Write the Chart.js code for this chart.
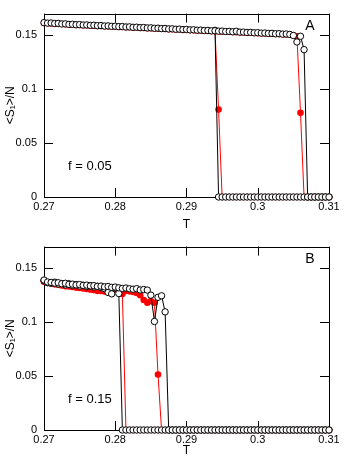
<!DOCTYPE html>
<html>
<head>
<meta charset="utf-8">
<script src="https://cdn.jsdelivr.net/npm/chart.js@4/dist/chart.umd.min.js"></script>
<style>
  html, body { margin: 0; padding: 0; background: #fff; }
  .panel { position: relative; width: 349px; }
  canvas { display: block; }
</style>
</head>
<body>
<div class="panel"><canvas id="chartA" width="349" height="233"></canvas></div>
<div class="panel"><canvas id="chartB" width="349" height="226"></canvas></div>
<script>
// temperature grid shared by every run
const tGrid = [
  0.27, 0.2705, 0.271, 0.2715, 0.272, 0.2725, 0.273, 0.2735, 0.274, 0.2745,
  0.275, 0.2755, 0.276, 0.2765, 0.277, 0.2775, 0.278, 0.2785, 0.279, 0.2795,
  0.28, 0.2805, 0.281, 0.2815, 0.282, 0.2825, 0.283, 0.2835, 0.284, 0.2845,
  0.285, 0.2855, 0.286, 0.2865, 0.287, 0.2875, 0.288, 0.2885, 0.289, 0.2895,
  0.29, 0.2905, 0.291, 0.2915, 0.292, 0.2925, 0.293, 0.2935, 0.294, 0.2945,
  0.295, 0.2955, 0.296, 0.2965, 0.297, 0.2975, 0.298, 0.2985, 0.299, 0.2995,
  0.3, 0.3005, 0.301, 0.3015, 0.302, 0.3025, 0.303, 0.3035, 0.304, 0.3045,
  0.305, 0.3055, 0.306, 0.3065, 0.307, 0.3075, 0.308, 0.3085, 0.309, 0.3095,
  0.31
];
const xTicks = [0.27, 0.28, 0.29, 0.3, 0.31];
const yTicks = [0, 0.05, 0.1, 0.15];

// panel A, f = 0.05
const aBlackUp = [
  0.1616, 0.1612, 0.1613, 0.1608, 0.1609, 0.1604, 0.1605, 0.1600, 0.1601, 0.1597,
  0.1598, 0.1594, 0.1595, 0.1591, 0.1592, 0.1588, 0.1589, 0.1585, 0.1586, 0.1582,
  0.1583, 0.1579, 0.1580, 0.1576, 0.1577, 0.1573, 0.1574, 0.1570, 0.1571, 0.1567,
  0.1568, 0.1564, 0.1565, 0.1561, 0.1562, 0.1558, 0.1559, 0.1555, 0.1556, 0.1552,
  0.1553, 0.1549, 0.1550, 0.1546, 0.1547, 0.1543, 0.1544, 0.1540, 0.1541, 0.1537,
  0.1538, 0.1534, 0.1535, 0.1531, 0.1536, 0.1528, 0.1529, 0.1525, 0.1526, 0.1522,
  0.1523, 0.1519, 0.1520, 0.1516, 0.1517, 0.1513, 0.1514, 0.1510, 0.1511, 0.1507,
  0.1497, 0.1437, 0.1490, 0.1366, 0, 0, 0, 0, 0, 0,
  0
];
const aBlackDown = [
  null, null, null, null, null, null, null, null, null, null,
  null, null, null, null, null, null, null, null, null, null,
  null, null, null, null, null, null, null, null, null, null,
  null, null, null, null, null, null, null, null, null, null,
  null, null, null, null, null, null, null, null, 0.1545, 0,
  0, 0, 0, 0, 0, 0, 0, 0, 0, 0,
  0, 0, 0, 0, 0, 0, 0, 0, 0, 0,
  0, 0, 0, 0, 0, 0, 0, 0, 0, 0,
  0
];
const aRedUp = [
  0.1613, 0.1611, 0.1609, 0.1607, 0.1605, 0.1603, 0.1601, 0.1599, 0.1597, 0.1595,
  0.1594, 0.1592, 0.1591, 0.1589, 0.1588, 0.1586, 0.1585, 0.1583, 0.1582, 0.1580,
  0.1579, 0.1577, 0.1576, 0.1574, 0.1573, 0.1571, 0.1570, 0.1568, 0.1567, 0.1565,
  0.1564, 0.1562, 0.1561, 0.1559, 0.1558, 0.1556, 0.1555, 0.1553, 0.1552, 0.1550,
  0.1549, 0.1547, 0.1546, 0.1544, 0.1543, 0.1541, 0.1540, 0.1538, 0.1537, 0.1535,
  0.1534, 0.1532, 0.1531, 0.1529, 0.1528, 0.1526, 0.1525, 0.1523, 0.1522, 0.1520,
  0.1519, 0.1517, 0.1516, 0.1514, 0.1513, 0.1511, 0.1510, 0.1508, 0.1507, 0.1505,
  0.1500, 0.1490, 0.078, 0, 0, 0, 0, 0, 0, 0,
  0
];
const aRedDown = [
  null, null, null, null, null, null, null, null, null, null,
  null, null, null, null, null, null, null, null, null, null,
  null, null, null, null, null, null, null, null, null, null,
  null, null, null, null, null, null, null, null, null, null,
  null, null, null, null, null, null, null, null, 0.1540, 0.081,
  0, 0, 0, 0, 0, 0, 0, 0, 0, 0,
  0, 0, 0, 0, 0, 0, 0, 0, 0, 0,
  0, 0, 0, 0, 0, 0, 0, 0, 0, 0,
  0
];

// panel B, f = 0.15
const bBlackUp = [
  0.1390, 0.1372, 0.1368, 0.1362, 0.1365, 0.1356, 0.1360, 0.1350, 0.1352, 0.1345,
  0.1348, 0.1340, 0.1343, 0.1336, 0.1338, 0.1331, 0.1334, 0.1327, 0.1330, 0.1322,
  0.1325, 0.1318, 0.1312, 0.1316, 0.1309, 0.1305, 0.1310, 0.1298, 0.1302, 0.1297,
  0.1250, 0.1006, 0.1230, 0.1244, 0.1095, 0, 0, 0, 0, 0,
  0, 0, 0, 0, 0, 0, 0, 0, 0, 0,
  0, 0, 0, 0, 0, 0, 0, 0, 0, 0,
  0, 0, 0, 0, 0, 0, 0, 0, 0, 0,
  0, 0, 0, 0, 0, 0, 0, 0, 0, 0,
  0
];
const bBlackDown = [
  0.1385, 0.1366, 0.1360, 0.1370, 0.1352, 0.1358, 0.1345, 0.1355, 0.1340, 0.1348,
  0.1335, 0.1342, 0.1330, 0.1338, 0.1326, 0.1332, 0.1320, 0.1310, 0.1275, 0.1262,
  0.1318, 0.1265, 0, 0, 0, 0, 0, 0, 0, 0,
  0, 0, 0, 0, 0, 0, 0, 0, 0, 0,
  0, 0, 0, 0, 0, 0, 0, 0, 0, 0,
  0, 0, 0, 0, 0, 0, 0, 0, 0, 0,
  0, 0, 0, 0, 0, 0, 0, 0, 0, 0,
  0, 0, 0, 0, 0, 0, 0, 0, 0, 0,
  0
];
const bRedUp = [
  0.1380, 0.1368, 0.1360, 0.1355, 0.1350, 0.1345, 0.1332, 0.1338, 0.1330, 0.1325,
  0.1318, 0.1322, 0.1312, 0.1305, 0.1298, 0.1290, 0.1295, 0.1288, 0.1300, 0.1292,
  0.1315, 0.1300, 0.1295, 0.1290, 0.1285, 0.1280, 0.1270, 0.1250, 0.1205, 0.1180,
  0.1195, 0.1180, 0.0515, 0, 0, 0, 0, 0, 0, 0,
  0, 0, 0, 0, 0, 0, 0, 0, 0, 0,
  0, 0, 0, 0, 0, 0, 0, 0, 0, 0,
  0, 0, 0, 0, 0, 0, 0, 0, 0, 0,
  0, 0, 0, 0, 0, 0, 0, 0, 0, 0,
  0
];
const bRedDown = [
  0.1375, 0.1362, 0.1358, 0.1350, 0.1346, 0.1340, 0.1336, 0.1330, 0.1326, 0.1320,
  0.1316, 0.1312, 0.1308, 0.1302, 0.1298, 0.1292, 0.1288, 0.1284, 0.1280, 0.1290,
  0.1305, 0.1295, 0.1260, 0, 0, 0, 0, 0, 0, 0,
  0, 0, 0, 0, 0, 0, 0, 0, 0, 0,
  0, 0, 0, 0, 0, 0, 0, 0, 0, 0,
  0, 0, 0, 0, 0, 0, 0, 0, 0, 0,
  0, 0, 0, 0, 0, 0, 0, 0, 0, 0,
  0, 0, 0, 0, 0, 0, 0, 0, 0, 0,
  0
];

Chart.defaults.font.family = '"Liberation Sans", Arial, sans-serif';
Chart.defaults.color = '#000';

function toPoints(vals) {
    return tGrid.map((t, i) => ({ x: t, y: vals[i] })).filter(p => p.y !== null && p.y !== undefined);
}

function redSet(vals) {
    return {
        data: toPoints(vals),
        borderColor: '#ff0000',
        backgroundColor: '#ff0000',
        borderWidth: 1,
        pointRadius: 3.3,
        pointBorderWidth: 0,
        pointBackgroundColor: '#ff0000',
        tension: 0,
        clip: false,
        order: 1
    };
}

function blackSet(vals) {
    return {
        data: toPoints(vals),
        borderColor: '#000',
        borderWidth: 1,
        pointRadius: 3.2,
        pointBorderWidth: 1,
        pointBorderColor: '#000',
        pointBackgroundColor: '#fff',
        tension: 0,
        clip: false,
        order: 0
    };
}

// box around the plot and inward tick marks on all four sides
const frameTicks = {
    id: 'frameTicks',
    beforeDatasetsDraw(chart) {
        const { ctx, chartArea: a, scales: { x, y } } = chart;
        ctx.save();
        ctx.strokeStyle = '#000';
        ctx.lineWidth = 1;
        ctx.strokeRect(Math.round(a.left) + 0.5, Math.round(a.top) + 0.5,
            Math.round(a.right - a.left), Math.round(a.bottom - a.top));
        ctx.beginPath();
        x.ticks.forEach(t => {
            const px = Math.round(x.getPixelForValue(t.value)) + 0.5;
            ctx.moveTo(px, a.bottom); ctx.lineTo(px, a.bottom - 9);
            ctx.moveTo(px, a.top); ctx.lineTo(px, a.top + 9);
        });
        y.ticks.forEach(t => {
            const py = Math.round(y.getPixelForValue(t.value)) + 0.5;
            ctx.moveTo(a.left, py); ctx.lineTo(a.left + 9, py);
            ctx.moveTo(a.right, py); ctx.lineTo(a.right - 9, py);
        });
        ctx.stroke();
        ctx.restore();
    }
};

const notes = {
    id: 'notes',
    afterDraw(chart) {
        const { ctx, chartArea: a } = chart;
        const o = chart.options.plugins.notes;
        ctx.save();
        ctx.fillStyle = '#000';
        ctx.textBaseline = 'middle';
        ctx.font = '13px "Liberation Sans", Arial, sans-serif';
        ctx.textAlign = 'left';
        ctx.fillText(o.fLabel, a.left + 24, a.bottom - 31);
        ctx.font = '14px "Liberation Sans", Arial, sans-serif';
        ctx.textAlign = 'center';
        ctx.fillText(o.panel, a.right - 19, a.top + 13);
        ctx.restore();
    }
};

function makeChart(id, sets, panel, fLabel, axisHeight) {
    return new Chart(document.getElementById(id).getContext('2d'), {
        type: 'line',
        data: { datasets: sets },
        options: {
            responsive: false,
            animation: false,
            layout: { padding: { top: 7, right: 20, left: 0, bottom: 0 } },
            plugins: {
                legend: { display: false },
                tooltip: { enabled: false },
                notes: { panel: panel, fLabel: fLabel }
            },
            scales: {
                x: {
                    type: 'linear',
                    min: 0.27,
                    max: 0.31,
                    afterBuildTicks: s => { s.ticks = xTicks.map(v => ({ value: v })); },
                    afterFit: s => { s.height = axisHeight; },
                    grid: { display: false, drawTicks: false },
                    border: { display: false },
                    ticks: { padding: 3, maxRotation: 0, font: { size: 11 }, callback: v => String(v) },
                    title: { display: true, text: 'T', font: { size: 12 }, padding: 1 }
                },
                y: {
                    min: 0,
                    max: 0.17,
                    afterBuildTicks: s => { s.ticks = yTicks.map(v => ({ value: v })); },
                    afterFit: s => { s.width = 44; },
                    grid: { display: false, drawTicks: false },
                    border: { display: false },
                    ticks: { padding: 7, font: { size: 11 }, callback: v => String(v) },
                    title: { display: true, text: '<S\u2081>/N', font: { size: 12 }, padding: { top: 3, bottom: 0 } }
                }
            }
        },
        plugins: [frameTicks, notes]
    });
}

makeChart('chartA', [redSet(aRedUp), redSet(aRedDown), blackSet(aBlackUp), blackSet(aBlackDown)], 'A', 'f = 0.05', 36);
makeChart('chartB', [redSet(bRedUp), redSet(bRedDown), blackSet(bBlackUp), blackSet(bBlackDown)], 'B', 'f = 0.15', 29);
</script>
</body>
</html>
